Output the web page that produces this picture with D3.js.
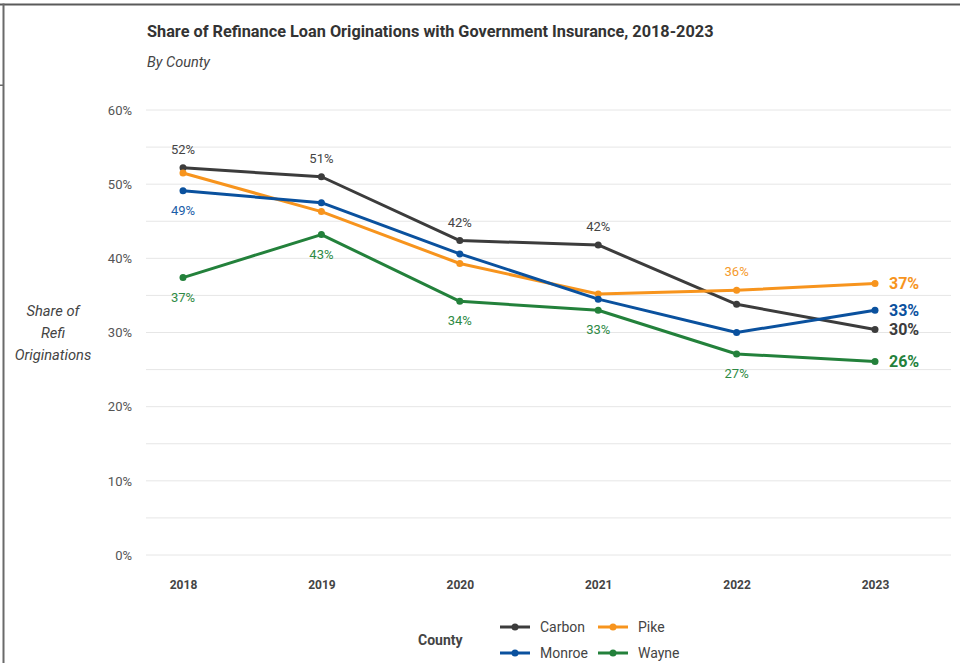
<!DOCTYPE html>
<html>
<head>
<meta charset="utf-8">
<script src="https://cdn.jsdelivr.net/npm/d3@7"></script>
<style>
  html, body { margin: 0; padding: 0; background: #fff; }
  svg { display: block; font-family: Roboto, "Noto Sans", sans-serif; }
</style>
</head>
<body>
<svg id="chart" width="960" height="663"></svg>
<script>
// Years on the x axis
const years = ["2018", "2019", "2020", "2021", "2022", "2023"];

// Share of refinance originations with government insurance (percent)
const carbon = [52.2, 51.0, 42.4, 41.8, 33.8, 30.4];
const pike   = [51.5, 46.3, 39.3, 35.2, 35.7, 36.6];
const monroe = [49.1, 47.5, 40.6, 34.5, 30.0, 33.0];
const wayne  = [37.4, 43.2, 34.2, 33.0, 27.1, 26.1];

// y axis ticks (percent)
const yTicks = [0, 10, 20, 30, 40, 50, 60];
const yGrid = [0, 5, 10, 15, 20, 25, 30, 35, 40, 45, 50, 55, 60];

const seriesNames = ["Carbon", "Pike", "Monroe", "Wayne"];
const seriesValues = [carbon, pike, monroe, wayne];
const lineColors = ["#3c3c3c", "#f7941d", "#0a519e", "#23813b"];
const labelColors = ["#444444", "#f59a2c", "#1a5ea8", "#2e8a44"];

// Which points carry a value label, and on which side: "a" above, "b" below
const labelSides = [
  ["a", "a", "a", "a", null, null],
  [null, null, null, null, "a", null],
  ["b", null, null, null, null, null],
  ["b", "b", "b", "b", "b", null]
];

const svg = d3.select("#chart");

// frame lines
svg.append("rect").attr("x", 0).attr("y", 3.5).attr("width", 960).attr("height", 2).attr("fill", "#5a5a5a");
svg.append("rect").attr("x", 2.5).attr("y", 3.5).attr("width", 2).attr("height", 660).attr("fill", "#6a6a6a");
svg.append("rect").attr("x", 0).attr("y", 84.5).attr("width", 3).attr("height", 1.5).attr("fill", "#6a6a6a");

const x = d3.scalePoint().domain(years).range([183, 875]);
const y = d3.scaleLinear().domain([0, 60]).range([555, 110]);

// Title block
svg.append("text").attr("x", 147).attr("y", 37)
  .attr("font-size", 16.3).attr("font-weight", 700).attr("fill", "#333")
  .text("Share of Refinance Loan Originations with Government Insurance, 2018-2023");
svg.append("text").attr("x", 147).attr("y", 67)
  .attr("font-size", 14.5).attr("font-style", "italic").attr("fill", "#444")
  .text("By County");

// Gridlines
svg.append("g").selectAll("line").data(yGrid).join("line")
  .attr("x1", 146).attr("x2", 951)
  .attr("y1", d => y(d)).attr("y2", d => y(d))
  .attr("stroke", "#e6e6e6").attr("stroke-width", 1);

// y axis labels
const yAxis = d3.axisLeft(y).tickValues(yTicks).tickFormat(d => d + "%").tickSize(0).tickPadding(0);
const yg = svg.append("g").attr("transform", "translate(132,0)").call(yAxis);
yg.select(".domain").remove();
yg.selectAll("text").attr("font-size", 13).attr("fill", "#555").attr("font-family", "Roboto, sans-serif");

// x axis labels
const xAxis = d3.axisBottom(x).tickSize(0).tickPadding(0);
const xg = svg.append("g").attr("transform", "translate(0,580)").call(xAxis);
xg.select(".domain").remove();
xg.selectAll("text").attr("font-size", 12).attr("font-weight", 700).attr("fill", "#444")
  .attr("font-family", "Roboto, sans-serif");

// y axis title
const yt = svg.append("text").attr("text-anchor", "middle").attr("font-size", 14.7)
  .attr("font-style", "italic").attr("fill", "#444");
["Share of", "Refi", "Originations"].forEach((t, i) => {
  yt.append("tspan").attr("x", 53).attr("y", 316 + i * 22).text(t);
});

const line = d3.line().x((d, i) => x(years[i])).y(d => y(d));
const fmt = v => Math.round(v) + "%";

// Lines and points
seriesValues.forEach((vals, s) => {
  const g = svg.append("g");
  g.append("path").datum(vals).attr("d", line)
    .attr("fill", "none").attr("stroke", lineColors[s]).attr("stroke-width", 3)
    .attr("stroke-linejoin", "round");
  g.selectAll("circle").data(vals).join("circle")
    .attr("cx", (d, i) => x(years[i])).attr("cy", d => y(d)).attr("r", 3.5)
    .attr("fill", lineColors[s]);
});

// Value labels
seriesValues.forEach((vals, s) => {
  vals.forEach((v, i) => {
    const side = labelSides[s][i];
    if (!side) return;
    svg.append("text")
      .attr("x", x(years[i]))
      .attr("y", side === "a" ? y(v) - 14 : y(v) + 24)
      .attr("text-anchor", "middle").attr("font-size", 13)
      .attr("fill", labelColors[s]).text(fmt(v));
  });
  // End label
  const last = vals[vals.length - 1];
  svg.append("text").attr("x", 889).attr("y", y(last)).attr("dy", "0.36em")
    .attr("font-size", 16).attr("font-weight", 700).attr("fill", lineColors[s])
    .text(fmt(last));
});

// Legend
svg.append("text").attr("x", 418).attr("y", 645).attr("font-size", 14)
  .attr("font-weight", 700).attr("fill", "#444").text("County");
const legendPos = [[500, 627], [598, 627], [500, 653], [598, 653]];
seriesNames.forEach((name, s) => {
  const [lx, ly] = legendPos[s];
  const lg = svg.append("g");
  lg.append("line").attr("x1", lx).attr("x2", lx + 30).attr("y1", ly).attr("y2", ly)
    .attr("stroke", lineColors[s]).attr("stroke-width", 3);
  lg.append("circle").attr("cx", lx + 15).attr("cy", ly).attr("r", 3.5).attr("fill", lineColors[s]);
  lg.append("text").attr("x", lx + 40).attr("y", ly).attr("dy", "0.36em")
    .attr("font-size", 14).attr("fill", "#444").text(name);
});
</script>
</body>
</html>
